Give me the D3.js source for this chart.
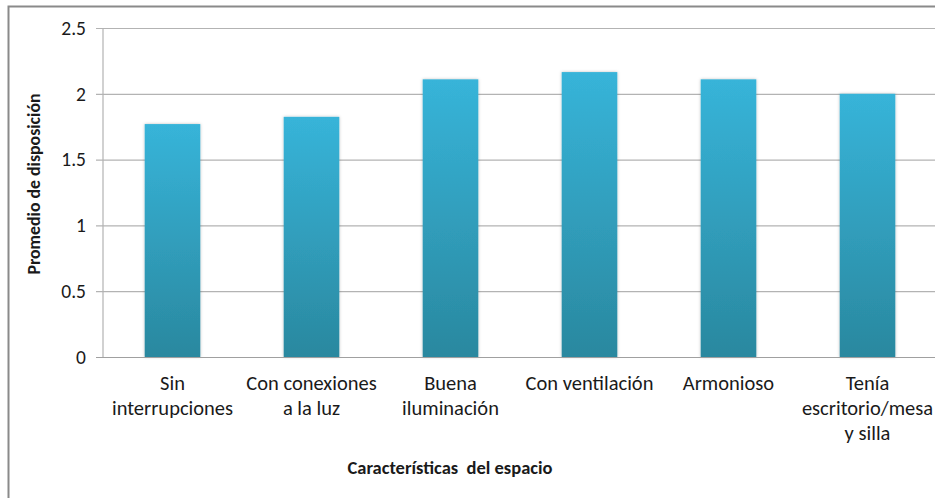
<!DOCTYPE html>
<html>
<head>
<meta charset="utf-8">
<script src="https://cdn.jsdelivr.net/npm/d3@7"></script>
<style>
  html, body { margin: 0; padding: 0; background: #fff; }
  svg { display: block; }
  text { font-family: Carlito, Calibri, Lato, "Open Sans", sans-serif; fill: #1a1a1a; }
</style>
</head>
<body>
<svg id="chart" width="935" height="498"></svg>
<script>
// Average disposition per space characteristic
const categories = [
  ["Sin", "interrupciones"],
  ["Con conexiones", "a la luz"],
  ["Buena", "iluminación"],
  ["Con ventilación"],
  ["Armonioso"],
  ["Tenía", "escritorio/mesa", "y silla"]
];
const values = [1.77, 1.825, 2.11, 2.165, 2.11, 2.0];
const yTicks = [0, 0.5, 1, 1.5, 2, 2.5];
const yTitle = "Promedio de disposición";
const xTitle = "Características  del espacio";

const svg = d3.select("#chart");
const margin = { left: 103, top: 28, right: -2, bottom: 141 };
const W = 935, H = 498;
const innerW = W - margin.left - margin.right;
const innerH = H - margin.top - margin.bottom;

// Outer chart frame
svg.append("rect")
  .attr("x", 8.5).attr("y", 6.5)
  .attr("width", 940).attr("height", 500)
  .attr("fill", "none").attr("stroke", "#8a8a8a").attr("stroke-width", 2);

const defs = svg.append("defs");
const grad = defs.append("linearGradient")
  .attr("id", "barGrad").attr("x1", 0).attr("y1", 0).attr("x2", 0).attr("y2", 1);
grad.append("stop").attr("offset", "0%").attr("stop-color", "#37b4d9");
grad.append("stop").attr("offset", "100%").attr("stop-color", "#2a889f");

const shadow = defs.append("filter").attr("id", "barShadow")
  .attr("x", "-20%").attr("y", "-5%").attr("width", "140%").attr("height", "110%");
shadow.append("feDropShadow").attr("dx", 0).attr("dy", 0)
  .attr("stdDeviation", 1.5).attr("flood-color", "#000").attr("flood-opacity", 0.25);

const g = svg.append("g").attr("transform", `translate(${margin.left},${margin.top})`);

const x = d3.scaleBand()
  .domain(categories.map((c, i) => i))
  .range([0, innerW])
  .paddingInner(0.6).paddingOuter(0.3);

const y = d3.scaleLinear().domain([0, 2.5]).range([innerH, 0]);

// Horizontal gridlines with tick labels
const yAxis = g.append("g")
  .call(d3.axisLeft(y).tickValues(yTicks).tickSize(-innerW).tickPadding(10)
    .tickFormat(d => d));
yAxis.select(".domain").remove();
yAxis.selectAll(".tick line").attr("stroke", "#b3b3b3").attr("stroke-width", 1.2)
  .attr("x1", -7);
yAxis.selectAll(".tick text")
  .attr("font-size", 19.5).attr("fill", "#222").attr("x", -17);

// Vertical axis line
g.append("line")
  .attr("x1", 0).attr("x2", 0).attr("y1", 0).attr("y2", innerH)
  .attr("stroke", "#b3b3b3").attr("stroke-width", 1.2);

// Bars
g.selectAll("rect.bar")
  .data(values)
  .join("rect")
  .attr("class", "bar")
  .attr("x", (d, i) => x(i))
  .attr("width", x.bandwidth())
  .attr("y", d => y(d))
  .attr("height", d => innerH - y(d))
  .attr("fill", "url(#barGrad)")
  .attr("filter", "url(#barShadow)");

// Baseline
g.append("line")
  .attr("x1", -7).attr("x2", innerW).attr("y1", innerH + 0.5).attr("y2", innerH + 0.5)
  .attr("stroke", "#a0a0a0").attr("stroke-width", 1.2);

// Category labels (multi-line)
const labels = g.selectAll("text.cat")
  .data(categories)
  .join("text")
  .attr("class", "cat")
  .attr("text-anchor", "middle")
  .attr("font-size", 20.5)
  .attr("transform", (d, i) => `translate(${x(i) + x.bandwidth() / 2},${innerH + 33})`);
labels.selectAll("tspan")
  .data(d => d)
  .join("tspan")
  .attr("x", 0)
  .attr("dy", (d, i) => i === 0 ? 0 : 25)
  .text(d => d);

// Axis titles
svg.append("text")
  .attr("x", 450).attr("y", 474)
  .attr("text-anchor", "middle")
  .attr("font-size", 18.5).attr("font-weight", "bold")
  .style("white-space", "pre")
  .text(xTitle);

svg.append("text")
  .attr("transform", "translate(40,184) rotate(-90)")
  .attr("text-anchor", "middle")
  .attr("font-size", 17.8).attr("font-weight", "bold")
  .text(yTitle);
</script>
</body>
</html>
